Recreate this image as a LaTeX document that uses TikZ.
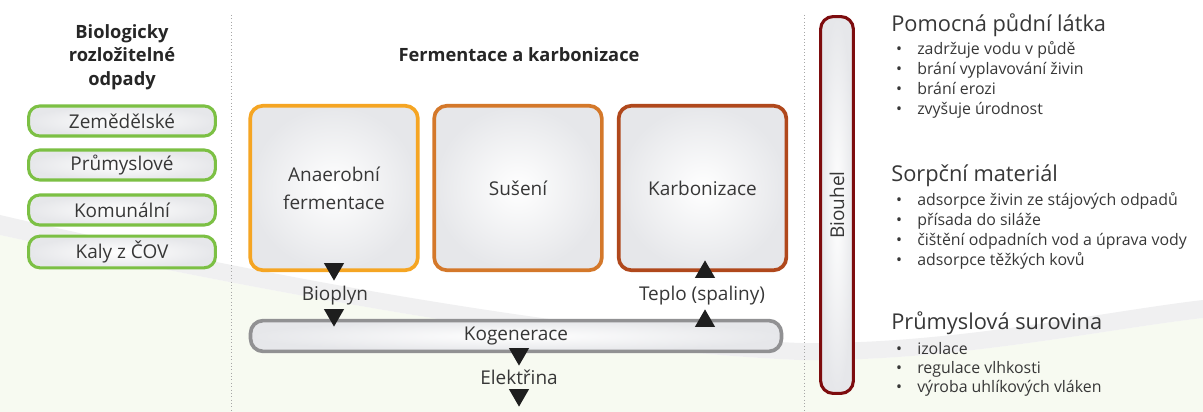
\documentclass[tikz,border=0pt]{standalone}
\usepackage{fontspec}
\setmainfont{Open Sans}
\usetikzlibrary{shapes.geometric}

\definecolor{txt}{RGB}{55,55,55}
\definecolor{odpadgreen}{RGB}{124,192,68}
\definecolor{fermorange}{RGB}{245,165,35}
\definecolor{susorange}{RGB}{212,120,42}
\definecolor{karbrust}{RGB}{176,72,28}
\definecolor{uhelred}{RGB}{125,12,14}
\definecolor{kogray}{RGB}{145,145,147}
\definecolor{boxfill}{RGB}{230,231,234}
\definecolor{sipka}{RGB}{30,30,30}
\definecolor{bggreen}{RGB}{247,250,241}
\definecolor{bggray}{RGB}{240,240,241}

\begin{document}
\begin{tikzpicture}[x=0.025cm,y=-0.025cm,
    every node/.style={text=txt},
    odpad/.style={draw=odpadgreen,line width=2.2pt,rounded corners=8pt,shade,inner color=white,outer color=boxfill,
        minimum width=4.67cm,minimum height=0.75cm,font=\fontsize{13.5}{16}\selectfont},
    proces/.style={line width=2.6pt,rounded corners=9pt,shade,inner color=white,outer color=boxfill,
        minimum width=4.19cm,minimum height=4.11cm,align=center,font=\fontsize{13.5}{20}\selectfont},
    titul/.style={align=center,font=\fontsize{13}{16.7}\selectfont\bfseries,text=black!85},
    popis/.style={font=\fontsize{13.5}{16}\selectfont},
    sipdolu/.style={regular polygon,regular polygon sides=3,shape border rotate=180,fill=sipka,inner sep=0pt,minimum size=0.58cm},
    sipnahoru/.style={sipdolu,shape border rotate=0},
    nadpis/.style={anchor=base west,inner sep=0pt,font=\fontsize{15.5}{18}\selectfont},
    odrazka/.style={anchor=base west,inner sep=0pt,font=\fontsize{11.3}{13}\selectfont}
]
\useasboundingbox (0,0) rectangle (1203,412);
\fill[white] (0,0) rectangle (1203,412);

% background swoosh
\fill[bggreen] (0,235) .. controls (300,300) and (600,352) .. (800,360)
    .. controls (950,362) and (1100,330) .. (1203,318) -- (1203,412) -- (0,412) -- cycle;
\fill[bggray] (0,215) .. controls (300,285) and (600,335) .. (800,343)
    .. controls (950,345) and (1100,312) .. (1203,300) -- (1203,318)
    .. controls (1100,330) and (950,362) .. (800,360)
    .. controls (600,352) and (300,300) .. (0,235) -- cycle;

% separators
\draw[dotted,gray!70] (231,15) -- (231,412);
\draw[dotted,gray!70] (804,15) -- (804,412);

% left column
\node[titul] (bio) at (122,57) {Biologicky\\rozložitelné\\odpady};
\node[odpad] (zem) at (122,121) {Zemědělské};
\node[odpad] (pru) at (122,165) {Průmyslové};
\node[odpad] (kom) at (122,210) {Komunální};
\node[odpad] (kal) at (122,252) {Kaly z ČOV};

% middle column
\node[titul] (ferm) at (519,55) {Fermentace a karbonizace};
\node[proces,draw=fermorange] (anaer) at (334,188) {Anaerobní\\fermentace};
\node[proces,draw=susorange] (suseni) at (518,188) {Sušení};
\node[proces,draw=karbrust] (karb) at (702.5,188) {Karbonizace};
\node[draw=kogray,line width=2.6pt,rounded corners=9pt,shade,inner color=white,outer color=boxfill,
    minimum width=13.27cm,minimum height=0.77cm,popis] (kogen) at (516,336) {Kogenerace};

\node[sipdolu] (s1) at (334,269) {};
\node[popis] (bioplyn) at (335,296) {Bioplyn};
\node[sipdolu] (s2) at (334,315) {};
\node[sipnahoru] (s3) at (705,272) {};
\node[popis] (teplo) at (702,296) {Teplo (spaliny)};
\node[sipnahoru] (s4) at (705,321) {};
\node[sipdolu] (s5) at (519,354) {};
\node[popis] (elekt) at (519,377) {Elektřina};
\node[sipdolu] (s6) at (519,395) {};

% right column
\node[draw=uhelred,line width=2.2pt,rounded corners=9pt,shade,inner color=white,outer color=boxfill,
    rotate=90,minimum width=9.42cm,minimum height=0.82cm,popis] (uhel) at (837,205) {Biouhel};

\node[nadpis] (h1) at (891,32) {Pomocná půdní látka};
\foreach \t [count=\i] in {zadržuje vodu v půdě,brání vyplavování živin,brání erozi,zvyšuje úrodnost}
    \node[odrazka] (a\i) at (893,{35+20*\i}) {\makebox[0.6cm][l]{\hspace{2pt}\textbullet}\t};

\node[nadpis] (h2) at (891,182) {Sorpční materiál};
\foreach \t [count=\i] in {adsorpce živin ze stájových odpadů,přísada do siláže,čištění odpadních vod a úprava vody,adsorpce těžkých kovů}
    \node[odrazka] (b\i) at (893,{186+20*\i}) {\makebox[0.6cm][l]{\hspace{2pt}\textbullet}\t};

\node[nadpis] (h3) at (891,330) {Průmyslová surovina};
\foreach \t [count=\i] in {izolace,regulace vlhkosti,výroba uhlíkových vláken}
    \node[odrazka] (c\i) at (893,{335+19*\i}) {\makebox[0.6cm][l]{\hspace{2pt}\textbullet}\t};
\end{tikzpicture}
\end{document}
